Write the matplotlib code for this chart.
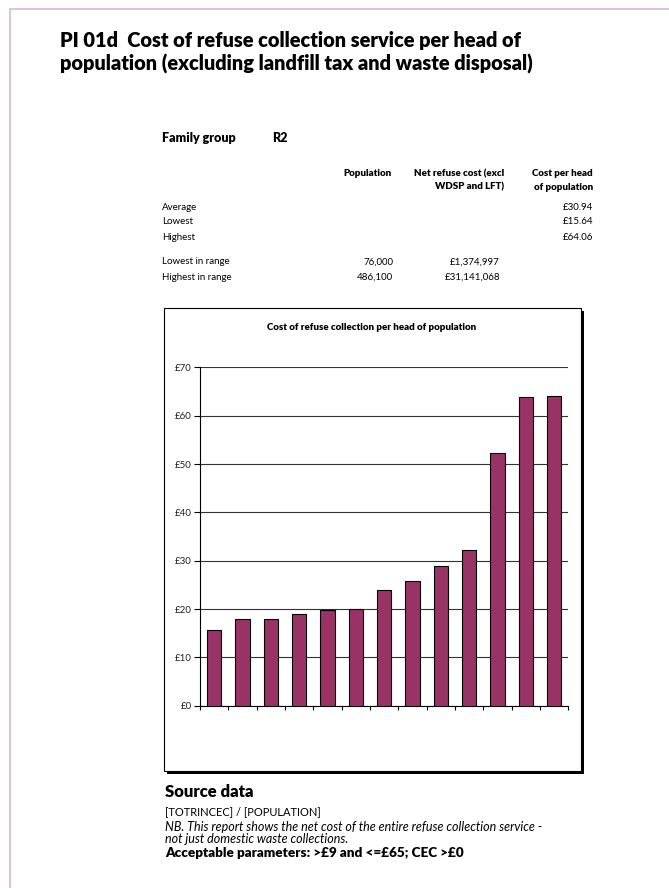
import matplotlib
matplotlib.use('Agg')
import matplotlib.pyplot as plt
from matplotlib.patches import Rectangle
from matplotlib.lines import Line2D

plt.rcParams['font.family'] = ['Lato', 'DejaVu Sans']

# Datos
cost_per_head = [15.64, 17.9, 18.0, 19.0, 19.7, 20.1, 23.9, 25.9, 29.0, 32.3, 52.2, 63.85, 64.06]
y_ticks = [0, 10, 20, 30, 40, 50, 60, 70]
y_labels = ['£0', '£10', '£20', '£30', '£40', '£50', '£60', '£70']

summary_rows = ['Average', 'Lowest', 'Highest']
summary_values = ['£30.94', '£15.64', '£64.06']
range_rows = ['Lowest in range', 'Highest in range']
range_population = ['76,000', '486,100']
range_cost = ['£1,374,997', '£31,141,068']

W, H = 669, 888
fig = plt.figure(figsize=(W / 100, H / 100), dpi=100)


def fx(x):
    return x / W


def fy(y):
    return 1 - y / H


def txt(x, y, s, **kw):
    fig.text(fx(x), fy(y), s, va='center', **kw)


# Borde de la página
border = '#dcc4e0'
fig.add_artist(Line2D([fx(10), fx(669)], [fy(9.5), fy(9.5)], color=border, lw=1.5))
fig.add_artist(Line2D([fx(10), fx(10)], [fy(9.5), fy(888)], color=border, lw=1.5))

# Título
txt(60, 40, 'PI 01d  Cost of refuse collection service per head of', fontsize=14.4, fontweight='heavy')
txt(60, 64, 'population (excluding landfill tax and waste disposal)', fontsize=14.4, fontweight='heavy')

# Tabla
txt(162, 138, 'Family group', fontsize=9, fontweight='heavy')
txt(272, 138, 'R2', fontsize=9, fontweight='heavy')
txt(392, 174, 'Population', fontsize=7, fontweight='heavy', ha='right')
txt(504, 174, 'Net refuse cost (excl', fontsize=7, fontweight='heavy', ha='right')
txt(504, 187, 'WDSP and LFT)', fontsize=7, fontweight='heavy', ha='right')
txt(593, 174, 'Cost per head', fontsize=7, fontweight='heavy', ha='right')
txt(593, 187, 'of population', fontsize=7, fontweight='heavy', ha='right')

for i, (row, val) in enumerate(zip(summary_rows, summary_values)):
    y = 207 + i * 15
    txt(162, y, row, fontsize=7)
    txt(593, y, val, fontsize=7, ha='right')

for i, row in enumerate(range_rows):
    y = 262 + i * 15
    txt(162, y, row, fontsize=7)
    txt(393, y, range_population[i], fontsize=7, ha='right')
    txt(500, y, range_cost[i], fontsize=7, ha='right')

# Marco del gráfico con sombra
fig.add_artist(Rectangle((fx(167), fy(774)), fx(584) - fx(167), fy(311) - fy(774),
                         facecolor='black', edgecolor='black', lw=0, zorder=0))
fig.add_artist(Rectangle((fx(164), fy(771)), fx(581) - fx(164), fy(308) - fy(771),
                         facecolor='white', edgecolor='black', lw=0.8, zorder=0.5))

txt(372, 327, 'Cost of refuse collection per head of population', fontsize=7, fontweight='heavy', ha='center')

# Gráfico de barras
ax = fig.add_axes([fx(200), fy(705.7), fx(568.3) - fx(200), fy(367.4) - fy(705.7)])
ax.set_zorder(2)
ax.patch.set_visible(False)
x = range(len(cost_per_head))
ax.bar(x, cost_per_head, width=0.5, color='#993366', edgecolor='black', linewidth=0.8, zorder=3)
ax.set_xlim(-0.5, len(cost_per_head) - 0.5)
ax.set_ylim(0, 70)
ax.set_yticks(y_ticks)
ax.set_yticklabels(y_labels, fontsize=7, color='#222222')
ax.set_xticks([i - 0.5 for i in range(len(cost_per_head) + 1)])
ax.set_xticklabels([])
ax.tick_params(axis='y', length=4, width=0.8, pad=2)
ax.tick_params(axis='x', length=3, width=0.8)
ax.grid(axis='y', color='#333333', linewidth=0.8, zorder=0)
for side in ['top', 'right']:
    ax.spines[side].set_visible(False)
ax.spines['left'].set_linewidth(0.8)
ax.spines['bottom'].set_linewidth(0.8)
ax.set_axisbelow(True)

# Datos de origen
txt(165, 792, 'Source data', fontsize=12, fontweight='heavy')
txt(165, 812, '[TOTRINCEC] / [POPULATION]', fontsize=8)
txt(165, 827, 'NB. This report shows the net cost of the entire refuse collection service -', fontsize=9, style='italic')
txt(165, 839, 'not just domestic waste collections.', fontsize=9, style='italic')
txt(165, 853, 'Acceptable parameters: >£9 and <=£65; CEC >£0', fontsize=9.7, fontweight='heavy')

fig.savefig('out.png', dpi=100)
